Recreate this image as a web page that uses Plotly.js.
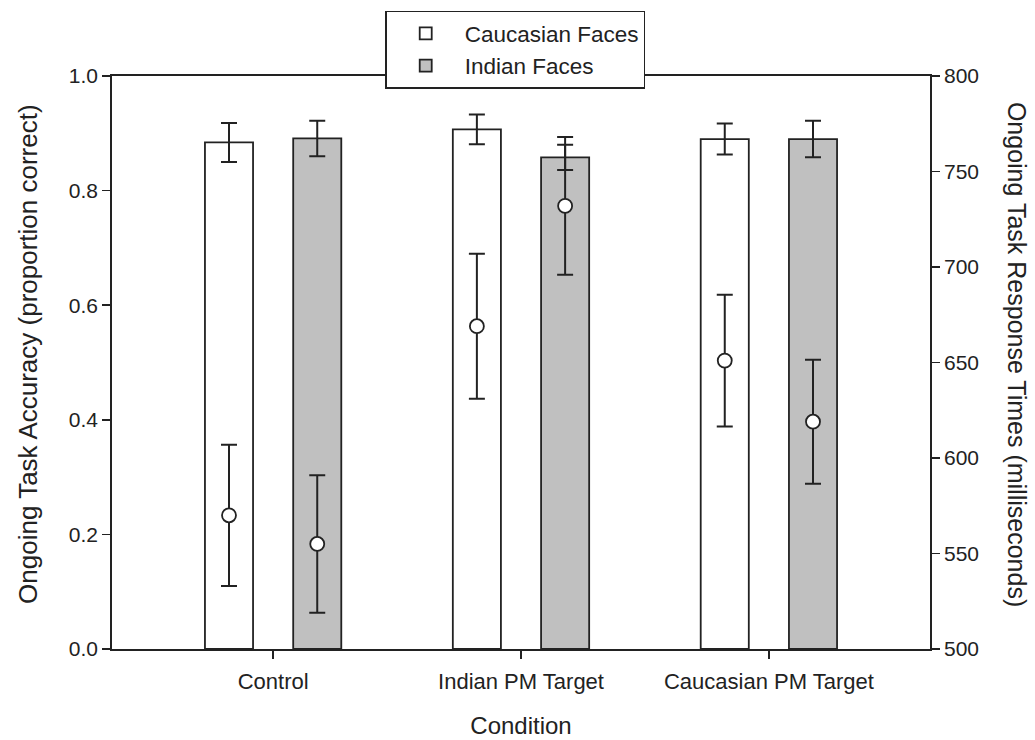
<!DOCTYPE html>
<html>
<head>
<meta charset="utf-8">
<script src="https://cdn.plot.ly/plotly-3.0.1.min.js"></script>
<style>html,body{margin:0;padding:0;background:#fff;}#chart{width:1035px;height:740px;}</style>
</head>
<body>
<div id="chart"></div>
<script>
// Categories
const conditions = ["Control", "Indian PM Target", "Caucasian PM Target"];
const seriesNames = ["Caucasian Faces", "Indian Faces"];

// Accuracy (bars, left axis)
const accCaucasian = [0.884, 0.907, 0.890];
const accCaucasianErr = [0.034, 0.026, 0.027];
const accIndian = [0.891, 0.858, 0.890];
const accIndianErr = [0.031, 0.022, 0.032];

// Response times (circles, right axis)
const rtCaucasian = [570, 669, 651];
const rtCaucasianErr = [37, 38, 34.5];
const rtIndian = [555, 732, 619];
const rtIndianErr = [36, 36, 32.5];

// Axis titles
const xTitle = "Condition";
const yTitle = "Ongoing Task Accuracy (proportion correct)";
const y2Title = "Ongoing Task Response Times (milliseconds)";

const ink = "#222222";
const FONT = "Liberation Sans, Arial, sans-serif";

function barTrace(name, y, err, fill, group) {
  return {
    type: "bar", name: name, x: conditions, y: y,
    offsetgroup: group,
    marker: {color: fill, line: {color: ink, width: 1.8}},
    error_y: {type: "data", array: err, visible: true, color: ink, thickness: 2, width: 8},
    hoverinfo: "skip"
  };
}
function rtTrace(name, y, err, group) {
  return {
    type: "scatter", mode: "markers", name: name, x: conditions, y: y,
    yaxis: "y2", offsetgroup: group, showlegend: false,
    marker: {symbol: "circle", size: 14, color: "#ffffff", line: {color: ink, width: 1.8}},
    error_y: {type: "data", array: err, visible: true, color: ink, thickness: 2, width: 8},
    hoverinfo: "skip"
  };
}

const data = [
  barTrace(seriesNames[0], accCaucasian, accCaucasianErr, "#ffffff", "a"),
  barTrace(seriesNames[1], accIndian, accIndianErr, "#c0c0c0", "b"),
  rtTrace(seriesNames[0], rtCaucasian, rtCaucasianErr, "a"),
  rtTrace(seriesNames[1], rtIndian, rtIndianErr, "b")
];

const layout = {
  width: 1035, height: 740,
  margin: {l: 112, r: 105, t: 75, b: 91},
  paper_bgcolor: "#ffffff", plot_bgcolor: "#ffffff",
  font: {family: FONT, size: 21, color: ink},
  barmode: "group", bargap: 0.288, bargroupgap: 0.455,
  scattermode: "group", scattergap: 0.288,
  showlegend: true,
  legend: {
    x: 0.334, y: 1.112, xanchor: "left", yanchor: "top",
    bgcolor: "#ffffff", bordercolor: ink, borderwidth: 1.5,
    font: {family: FONT, size: 22.5, color: ink},
    itemwidth: 68, tracegroupgap: 0
  },
  xaxis: {
    type: "category", range: [-0.65, 2.65],
    showline: true, linecolor: ink, linewidth: 1.8, mirror: true,
    ticks: "outside", ticklen: 8, tickwidth: 1.5, tickcolor: ink,
    showgrid: false, zeroline: false, ticklabelstandoff: 4,
    tickfont: {family: FONT, size: 22, color: ink},
    title: {text: xTitle, font: {family: FONT, size: 24, color: ink}, standoff: 24}
  },
  yaxis: {
    range: [0, 1], dtick: 0.2, tickformat: ".1f",
    showline: true, linecolor: ink, linewidth: 1.8,
    ticks: "outside", ticklen: 8, tickwidth: 1.5, tickcolor: ink,
    showgrid: false, zeroline: false,
    tickfont: {family: FONT, size: 21, color: ink}
  },
  yaxis2: {
    overlaying: "y", side: "right", range: [500, 800], dtick: 50,
    showline: true, linecolor: ink, linewidth: 1.8,
    ticks: "outside", ticklen: 8, tickwidth: 1.5, tickcolor: ink,
    showgrid: false, zeroline: false,
    tickfont: {family: FONT, size: 21, color: ink}
  },
  annotations: [
    {
      text: yTitle, textangle: -90, showarrow: false,
      xref: "paper", yref: "paper", x: 0, y: 0.515, xanchor: "center", yanchor: "middle",
      xshift: -84, font: {family: FONT, size: 26, color: ink}
    },
    {
      text: y2Title, textangle: 90, showarrow: false,
      xref: "paper", yref: "paper", x: 1, y: 0.515, xanchor: "center", yanchor: "middle",
      xshift: 87, font: {family: FONT, size: 25, color: ink}
    }
  ]
};

Plotly.newPlot("chart", data, layout, {staticPlot: true, displayModeBar: false});
</script>
</body>
</html>
